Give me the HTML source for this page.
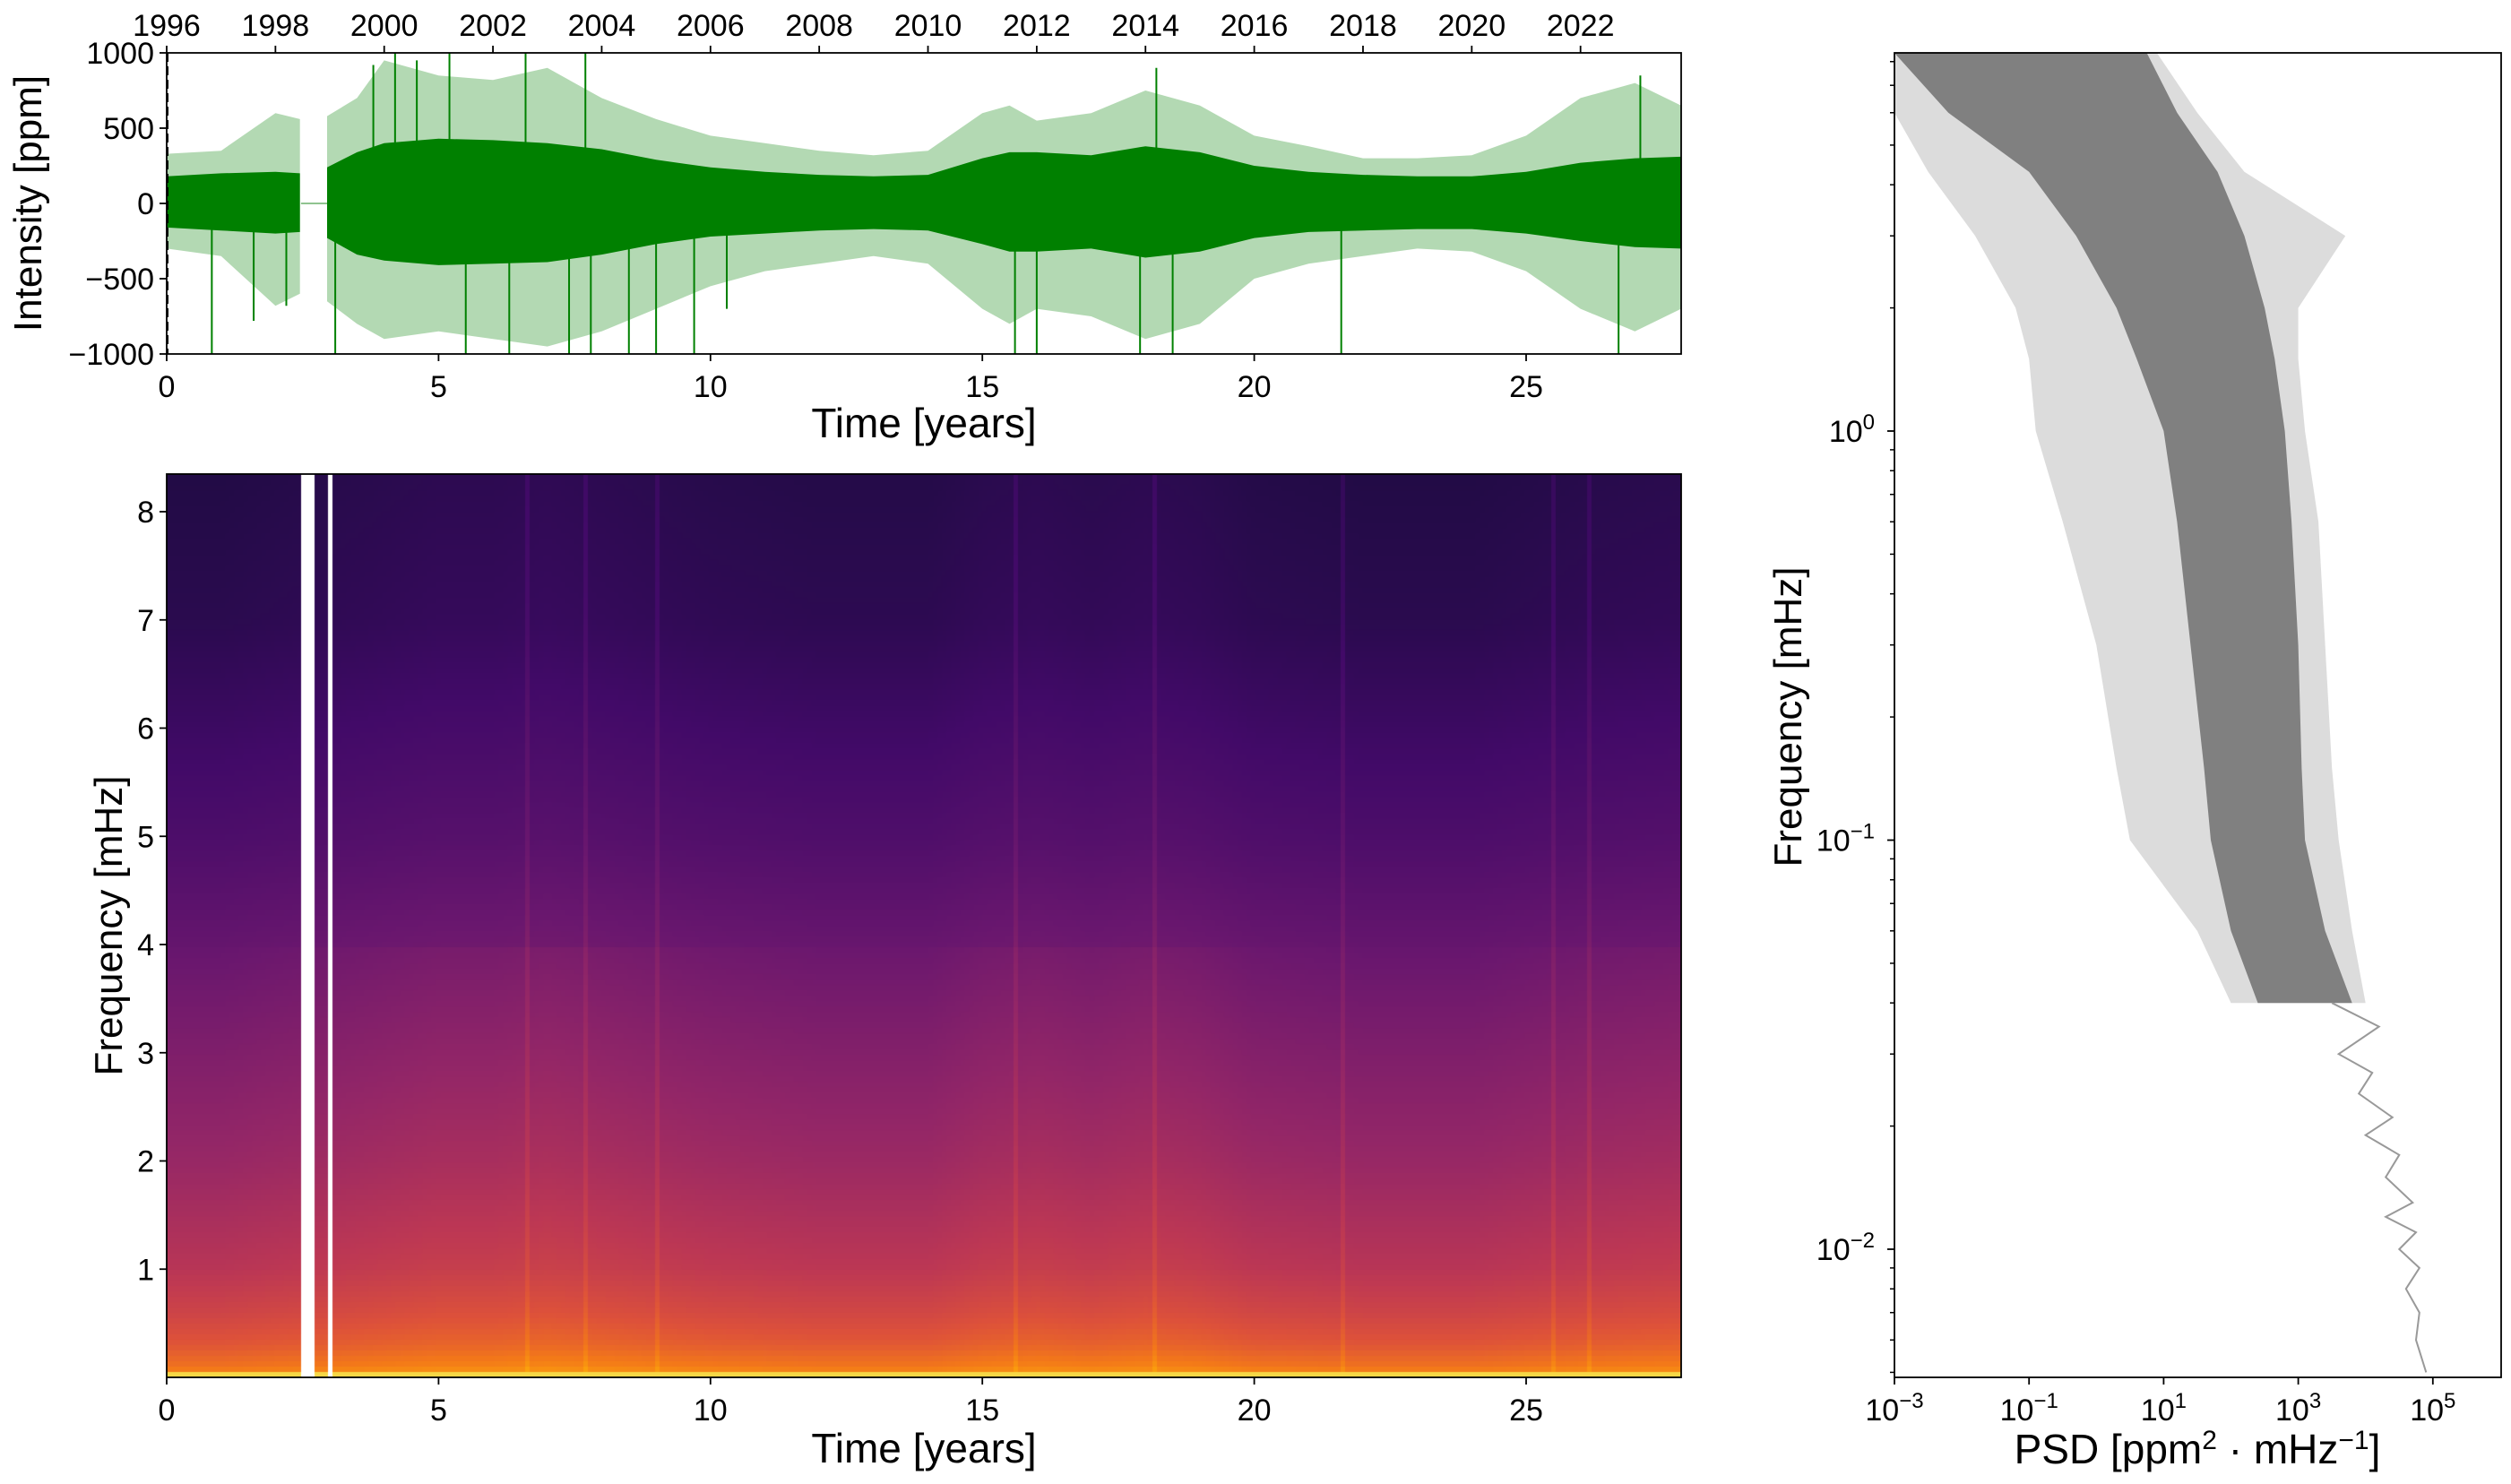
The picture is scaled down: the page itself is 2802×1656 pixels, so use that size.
<!DOCTYPE html>
<html><head><meta charset="utf-8"><style>
html,body{margin:0;padding:0;background:#fff;}
svg{display:block;}
text{font-family:"Liberation Sans Narrow","Liberation Sans",sans-serif;fill:#000;}
.lab{font-family:"Liberation Sans","DejaVu Sans",sans-serif;}
</style></head><body>
<div style="position:relative;width:2802px;height:1656px;">
<canvas id="spec" width="1690" height="1008" style="position:absolute;left:186px;top:529px;"></canvas>
<svg id="fig" width="2802" height="1656" style="position:absolute;left:0;top:0;"></svg>
</div>
<script>
// ---------- DATA ----------
const coreYears = [0,1,2,2.45,2.95,3.5,4,5,6,7,8,9,10,11,12,13,14,15,15.5,16,17,18,19,20,21,22,23,24,25,26,27,27.85];
const coreHi   = [180,200,210,200,240,340,400,430,420,400,360,290,240,210,190,180,190,300,340,340,320,380,340,250,210,190,180,180,210,270,300,310];
const coreLo   = [-160,-180,-200,-190,-230,-340,-380,-410,-400,-390,-340,-270,-220,-200,-180,-170,-180,-270,-320,-320,-300,-360,-320,-230,-190,-180,-170,-170,-200,-250,-290,-300];
const outerHi  = [330,350,600,560,580,700,950,850,820,900,700,560,450,400,350,320,350,600,650,550,600,750,650,450,380,300,300,320,450,700,800,650];
const outerLo  = [-300,-350,-680,-600,-650,-800,-900,-850,-900,-950,-850,-700,-550,-450,-400,-350,-400,-700,-800,-700,-750,-900,-800,-500,-400,-350,-300,-320,-450,-700,-850,-700];
const spikeYears = [0.83,1.6,2.2,3.1,3.8,4.2,4.6,5.2,5.5,6.3,6.6,7.4,7.7,7.8,8.5,9.0,9.7,10.3,15.6,16.0,17.9,18.2,18.5,21.6,26.7,27.1];
const spikeVals  = [-1000,-780,-680,-1000,920,1000,950,1000,-1000,-1000,1000,-1000,1000,-1000,-1000,-1000,-1000,-700,-1000,-1000,-1000,900,-1000,-1000,-1000,850];
const gapStart = 2.47, gapEnd = 2.95;
const yearTicks = [1996,1998,2000,2002,2004,2006,2008,2010,2012,2014,2016,2018,2020,2022];
const timeTicks = [0,5,10,15,20,25];
const intensityTicks = [1000,500,0,-500,-1000];
// Spectrogram
const specFreqs = [0.0,0.08,0.3,0.6,1,2,3,4,5,6,7,8.4];
const specLevel = [0.85,0.68,0.6,0.54,0.48,0.4,0.34,0.28,0.22,0.18,0.14,0.12];
const activityYears = [0,1,2,3,4,5,6,7,8,9,10,12,14,15,16,17,18,19,20,22,24,26,27.85];
const activityBoost = [0.01,0.01,0.02,0.03,0.04,0.05,0.05,0.06,0.05,0.04,0.03,0.02,0.02,0.04,0.05,0.04,0.05,0.04,0.02,0.01,0.01,0.03,0.04];
const streakYears = [6.6,7.7,9.0,15.6,18.2,21.6,25.5,26.2];
const specGaps = [[2.47,2.69],[2.98,3.02]];
const freqTicks = [1,2,3,4,5,6,7,8];
// PSD (log10 values)
const psdFreq  = [8.4,6,4.3,3,2,1.5,1,0.6,0.3,0.15,0.1,0.06,0.04];
const denseLo  = [-3,-2.2,-1.0,-0.3,0.3,0.6,1.0,1.2,1.4,1.6,1.7,2.0,2.4];
const denseHi  = [0.75,1.2,1.8,2.2,2.5,2.65,2.8,2.9,3.0,3.05,3.1,3.4,3.8];
const psdOutLo = [-3,-3,-2.5,-1.8,-1.2,-1.0,-0.9,-0.5,0.0,0.3,0.5,1.5,2.0];
const psdOutHi = [0.9,1.5,2.2,3.7,3.0,3.0,3.1,3.3,3.4,3.5,3.6,3.8,4.0];
const lowFreq  = [0.04,0.035,0.03,0.027,0.024,0.021,0.019,0.017,0.015,0.013,0.012,0.011,0.01,0.009,0.008,0.007,0.006,0.005];
const lowPsd   = [3.5,4.2,3.6,4.1,3.9,4.4,4.0,4.5,4.3,4.7,4.3,4.75,4.5,4.8,4.6,4.8,4.75,4.9];
const psdTicks = [-3,-1,1,3,5];
const psdFTicks = [0,-1,-2];

// ---------- AXES ----------
const tx = t => 186 + t*60.68;
const ty = v => 227 - v*0.168;
const sy = f => 1537 - f*120.75;
const px = l => 2114 + (l+3)*75.1;
const py = f => 481 - Math.log10(f)*456.5;

const NS="http://www.w3.org/2000/svg";
const svg=document.getElementById('fig');
function el(tag,attrs,parent){const e=document.createElementNS(NS,tag);for(const k in attrs)e.setAttribute(k,attrs[k]);(parent||svg).appendChild(e);return e;}
function txt(s,x,y,size,anchor,cls,parent){const e=el('text',{x:x,y:y,'font-size':size,'text-anchor':anchor||'middle'},parent);if(cls)e.setAttribute('class',cls);e.textContent=s;return e;}

// ===== Top panel =====
const gTop=el('g',{});


const clip=el('clipPath',{id:'ctop'});el('rect',{x:186,y:59,width:1690,height:336},clip);
const gs=el('g',{'clip-path':'url(#ctop)'},gTop);
function bandPath(xs,hi,lo,fx,fy){let d='';xs.forEach((x,i)=>{d+=(i?'L':'M')+fx(x).toFixed(1)+','+fy(hi[i]).toFixed(1);});for(let i=xs.length-1;i>=0;i--)d+='L'+fx(xs[i]).toFixed(1)+','+fy(lo[i]).toFixed(1);return d+'Z';}
function segBand(hi,lo,fill,name){
  const a=[],b=[];coreYears.forEach((y,i)=>{if(y<=gapStart)a.push(i);else if(y>=gapEnd)b.push(i);});
  [a,b].forEach(idx=>{const p=el('path',{d:bandPath(idx.map(i=>coreYears[i]),idx.map(i=>hi[i]),idx.map(i=>lo[i]),tx,ty),fill:fill},gs);
  
  });
}
segBand(outerHi,outerLo,'#b3d9b3','intensity-outer-envelope');
segBand(coreHi,coreLo,'#008000','intensity-core');
el('line',{x1:tx(gapStart),x2:tx(gapEnd),y1:ty(0),y2:ty(0),stroke:'#8fc48f','stroke-width':2},gs);
spikeYears.forEach((t,i)=>{const l=el('line',{x1:tx(t),x2:tx(t),y1:ty(0),y2:ty(spikeVals[i]),stroke:'#008000','stroke-width':2},gs);

});
el('rect',{x:186,y:59,width:1690,height:336,fill:'none',stroke:'#000','stroke-width':1.8},gTop);
el('line',{x1:187,x2:187,y1:59,y2:395,stroke:'#000','stroke-width':2,'stroke-dasharray':'10,5'},gTop);
intensityTicks.forEach(v=>{el('line',{x1:178,x2:186,y1:ty(v),y2:ty(v),stroke:'#000','stroke-width':1.8},gTop);
const t=txt(v<0?'\u2212'+(-v):String(v),172,ty(v)+12,34,'end',null,gTop);

});
timeTicks.forEach(v=>{el('line',{x1:tx(v),x2:tx(v),y1:395,y2:403,stroke:'#000','stroke-width':1.8},gTop);
const t=txt(String(v),tx(v),443,34,'middle',null,gTop);

});
yearTicks.forEach(y=>{const x=tx(y-1996);el('line',{x1:x,x2:x,y1:51,y2:59,stroke:'#000','stroke-width':1.8},gTop);
const t=txt(String(y),x,40,34,'middle',null,gTop);

});
let t1=txt('Time [years]',1031,488,46,'middle',null,gTop);


let t2=txt('Intensity [ppm]',0,0,44,'middle','lab',gTop);t2.setAttribute('transform','translate(46,227) rotate(-90)');



// ===== Spectrogram =====
const inferno=[[0,0,4],[22,11,57],[66,10,104],[106,23,110],[147,38,103],[188,55,84],[221,81,58],[243,120,25],[252,165,10],[246,215,70],[252,255,164]];
function cmap(v){v=Math.max(0,Math.min(1,v))*10;const i=Math.min(9,Math.floor(v)),f=v-i;const a=inferno[i],b=inferno[i+1];return [0,1,2].map(k=>Math.round(a[k]+(b[k]-a[k])*f));}
function interp(xs,ys,x){if(x<=xs[0])return ys[0];for(let i=1;i<xs.length;i++)if(x<=xs[i]){const f=(x-xs[i-1])/(xs[i]-xs[i-1]);return ys[i-1]+(ys[i]-ys[i-1])*f;}return ys[ys.length-1];}
const cv=document.getElementById('spec'),ctx=cv.getContext('2d');
const nT=338,nF=168,cw=1690/nT,ch=1008/nF;
for(let i=0;i<nT;i++){const t=(i+0.5)*cw/60.68;
  let gap=specGaps.some(g=>t>=g[0]&&t<=g[1]);
  let streak=streakYears.some(s=>Math.abs(s-t)<0.04)?0.04:0;
  for(let j=0;j<nF;j++){const f=(1008-(j+0.5)*ch)/120.75;
    if(gap){ctx.fillStyle='#fff';}else{
      let v=interp(specFreqs,specLevel,f)+interp(activityYears,activityBoost,t)*(f<4?1:0.6)+streak;
      if(f<0.06)v=0.9;
      const c=cmap(v);ctx.fillStyle='rgb('+c+')';}
    ctx.fillRect(Math.floor(i*cw),Math.floor(j*ch),Math.ceil(cw)+1,Math.ceil(ch)+1);}
}
const gSp=el('g',{});


el('rect',{x:186,y:529,width:1690,height:1008,fill:'none',stroke:'#000','stroke-width':1.8},gSp);
freqTicks.forEach(v=>{el('line',{x1:178,x2:186,y1:sy(v),y2:sy(v),stroke:'#000','stroke-width':1.8},gSp);
const t=txt(String(v),172,sy(v)+12,34,'end',null,gSp);

});
timeTicks.forEach(v=>{el('line',{x1:tx(v),x2:tx(v),y1:1537,y2:1545,stroke:'#000','stroke-width':1.8},gSp);
const t=txt(String(v),tx(v),1585,34,'middle',null,gSp);

});
let t3=txt('Time [years]',1031,1632,46,'middle',null,gSp);


let t4=txt('Frequency [mHz]',0,0,44,'middle','lab',gSp);t4.setAttribute('transform','translate(136,1033) rotate(-90)');



// ===== PSD panel =====
const gP=el('g',{});


const clip2=el('clipPath',{id:'cpsd'});el('rect',{x:2114,y:59,width:677,height:1478},clip2);
const gp=el('g',{'clip-path':'url(#cpsd)'},gP);
function psdBand(lo,hi,fill,name){let d='';psdFreq.forEach((f,i)=>{d+=(i?'L':'M')+px(hi[i]).toFixed(1)+','+py(f).toFixed(1);});for(let i=psdFreq.length-1;i>=0;i--)d+='L'+px(lo[i]).toFixed(1)+','+py(psdFreq[i]).toFixed(1);
const p=el('path',{d:d+'Z',fill:fill},gp);

}
psdBand(psdOutLo,psdOutHi,'#dcdcdc','psd-outer-band');
psdBand(denseLo,denseHi,'#808080','psd-dense-band');
let ld='';lowFreq.forEach((f,i)=>{ld+=(i?'L':'M')+px(lowPsd[i]).toFixed(1)+','+py(f).toFixed(1);});
const lp=el('path',{d:ld,fill:'none',stroke:'#999','stroke-width':2},gp);


el('rect',{x:2114,y:59,width:677,height:1478,fill:'none',stroke:'#000','stroke-width':1.8},gP);
psdTicks.forEach(l=>{el('line',{x1:px(l),x2:px(l),y1:1537,y2:1545,stroke:'#000','stroke-width':1.8},gP);
const t=el('text',{x:px(l),y:1585,'font-size':34,'text-anchor':'middle'},gP);


t.textContent='10';const s=el('tspan',{dy:-14,'font-size':24},t);s.textContent=l<0?'\u2212'+(-l):String(l);});
for(let d=-3;d<=1;d++)for(let m=2;m<=9;m++){const f=m*Math.pow(10,d);const y=py(f);if(y>59&&y<1537)el('line',{x1:2109,x2:2114,y1:y,y2:y,stroke:'#000','stroke-width':1.5},gP);}
psdFTicks.forEach(l=>{const y=py(Math.pow(10,l));el('line',{x1:2106,x2:2114,y1:y,y2:y,stroke:'#000','stroke-width':1.8},gP);
const t=el('text',{x:2092,y:y+12,'font-size':34,'text-anchor':'end'},gP);


t.textContent='10';const s=el('tspan',{dy:-14,'font-size':24},t);s.textContent=l<0?'\u2212'+(-l):String(l);});
let t5=el('text',{x:2452,y:1633,'font-size':46,'text-anchor':'middle'},gP);


t5.innerHTML='PSD [ppm<tspan dy="-16" font-size="30">2</tspan><tspan dy="16"> \u00b7 mHz</tspan><tspan dy="-16" font-size="30">\u22121</tspan><tspan dy="16">]</tspan>';
let t6=txt('Frequency [mHz]',0,0,44,'middle','lab',gP);t6.setAttribute('transform','translate(2010,800) rotate(-90)');


</script>
</body></html>
